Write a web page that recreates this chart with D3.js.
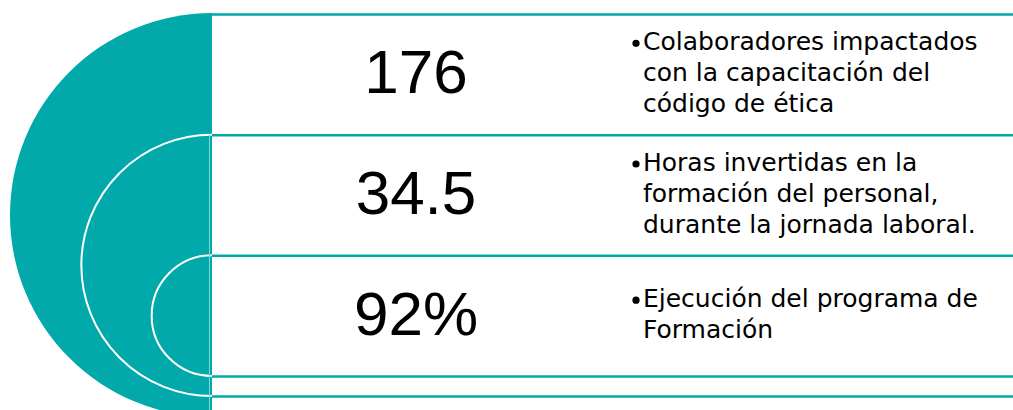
<!DOCTYPE html>
<html>
<head>
<meta charset="utf-8">
<script src="https://cdn.jsdelivr.net/npm/d3@7"></script>
<style>
  html, body { margin: 0; padding: 0; background: #fff; }
  svg { display: block; }
  .value { font-family: "Liberation Sans", Arial, sans-serif; font-size: 62px; fill: #000; }
  .desc { font-family: "DejaVu Sans", sans-serif; font-size: 25px; fill: #000; }
</style>
</head>
<body>
<svg id="chart" width="1013" height="410"></svg>
<script>
// data
var values = ["176", "34.5", "92%"];
var descriptions = [
  ["Colaboradores impactados", "con la capacitación del", "código de ética"],
  ["Horas invertidas en la", "formación del personal,", "durante la jornada laboral."],
  ["Ejecución del programa de", "Formación"]
];

var teal = "#02a9ab";
var params = {
  "width": 1013,
  "height": 410,
  "edge": 212,      // x of the straight side of the half circles
  "top": 14,
  "rowBottom": 376,
  "gap": 20,        // spacing of the closing lines below the rows
  "valueX": 416,
  "bulletX": 636,
  "textX": 643,
  "lineHeight": 31
};

var translate = function(x, y) { return "translate(" + x + "," + y + ")"; };

var svg = d3.select("#chart");

var rows = d3.scaleBand()
  .domain(d3.range(values.length))
  .range([params.top, params.rowBottom]);

// half circles: each starts at the top of a row and closes on a line below
var arcs = d3.range(values.length).map(function(i) {
  var top = rows(i);
  var bottom = params.rowBottom + params.gap * (values.length - 1 - i);
  return { "i": i, "cy": (top + bottom) / 2, "r": (bottom - top) / 2, "bottom": bottom };
});

var halfCircle = d3.arc()
  .innerRadius(0)
  .startAngle(Math.PI)
  .endAngle(2 * Math.PI);

// teal disk
svg.append("path")
  .attr("transform", translate(params.edge, arcs[0].cy))
  .attr("d", halfCircle.outerRadius(arcs[0].r + 1)())
  .attr("fill", teal);

// inner white arcs
svg.selectAll("path.ringline")
  .data(arcs.slice(1))
  .enter().append("path")
  .attr("class", "ringline")
  .attr("transform", function(d) { return translate(params.edge, d.cy); })
  .attr("d", function(d) {
    var p = d3.path();
    p.moveTo(0, -d.r);
    p.arc(0, 0, d.r, -Math.PI / 2, Math.PI / 2, true);
    return p.toString();
  })
  .attr("fill", "none")
  .attr("stroke", "#fff")
  .attr("stroke-width", 2);

// faint vertical edge of the lower boxes
svg.append("line")
  .attr("x1", params.edge - 2.5).attr("x2", params.edge - 2.5)
  .attr("y1", rows(1)).attr("y2", params.height)
  .attr("stroke", "#7fd4d5")
  .attr("stroke-width", 1);

// horizontal row lines
var lineYs = rows.domain().map(function(i) { return rows(i); })
  .concat(arcs.slice(1).map(function(d) { return d.bottom; }).reverse());

svg.selectAll("line.row")
  .data(lineYs)
  .enter().append("line")
  .attr("class", "row")
  .attr("x1", params.edge).attr("x2", params.width)
  .attr("y1", function(d) { return d + 0.5; })
  .attr("y2", function(d) { return d + 0.5; })
  .attr("stroke", teal)
  .attr("stroke-width", 2.5);

// values
svg.selectAll("text.value")
  .data(values)
  .enter().append("text")
  .attr("class", "value")
  .attr("text-anchor", "middle")
  .attr("x", params.valueX)
  .attr("y", function(d, i) { return rows(i) + rows.bandwidth() / 2 + 19; })
  .text(function(d) { return d; });

// descriptions
var groups = svg.selectAll("g.desc-group")
  .data(descriptions)
  .enter().append("g")
  .attr("class", "desc-group")
  .attr("transform", function(d, i) {
    var cy = rows(i) + rows.bandwidth() / 2 + 7;
    return translate(0, cy - (d.length - 1) / 2 * params.lineHeight);
  });

groups.append("circle")
  .attr("cx", params.bulletX)
  .attr("cy", -7)
  .attr("r", 3.6)
  .attr("fill", "#000");

groups.selectAll("text.line")
  .data(function(d) { return d; })
  .enter().append("text")
  .attr("class", "desc line")
  .attr("x", params.textX)
  .attr("y", function(d, i) { return i * params.lineHeight; })
  .text(function(d) { return d; });
</script>
</body>
</html>
